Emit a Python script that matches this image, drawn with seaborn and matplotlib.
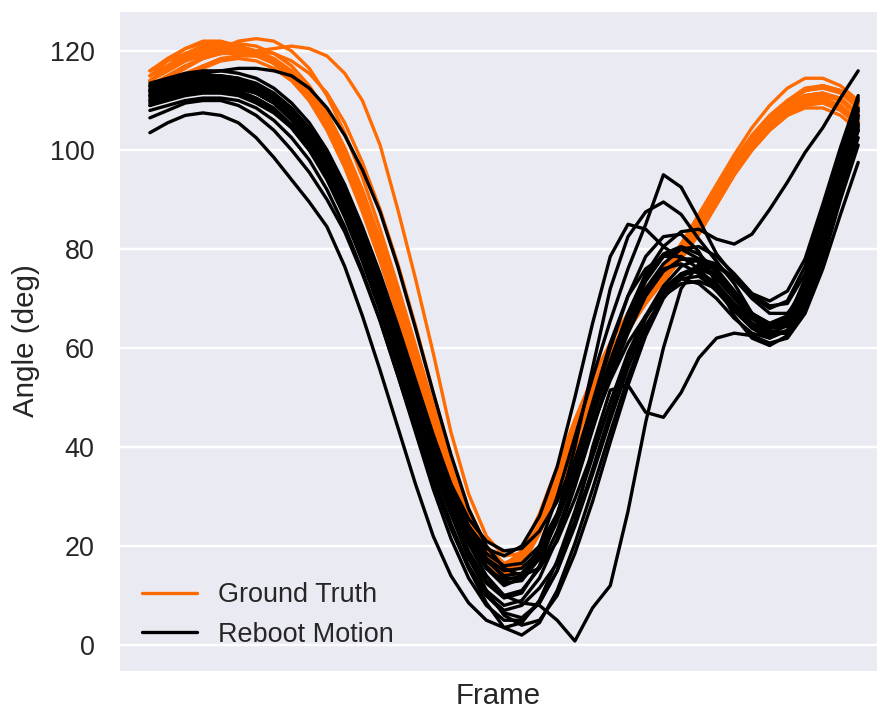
import numpy as np
import pandas as pd
import matplotlib
matplotlib.use("Agg")
import matplotlib.pyplot as plt
from matplotlib.lines import Line2D
import seaborn as sns

# Sample frames shared by every trial (normalised 0-100 %)
FRAMES = np.arange(0, 100.1, 2.5)

# Ground-truth joint angle per trial (deg)
gt_01 = [114, 116, 118, 119.5, 120, 120, 119.5, 118, 115.5, 111.5, 106, 99, 90.5, 80.5, 69.5, 58, 46.5, 35, 25, 18, 15.5, 19, 26, 35, 44, 52.5, 59.5, 65.5, 70.5, 75, 79.5, 85, 91, 97, 102, 106, 109, 111, 111.5, 110, 107]
gt_02 = [115, 118, 120.5, 122, 122, 121, 119.5, 117.5, 114.5, 110, 104, 96.5, 87.5, 77.5, 66.5, 55, 43.5, 32.5, 23.5, 17, 14.5, 17.5, 24.5, 33.5, 42.5, 51, 58.5, 64.5, 70, 74.5, 79, 84.5, 90.5, 96.5, 101.5, 106, 109.5, 112, 113, 112, 109.5]
gt_03 = [113, 114.5, 116.5, 118.5, 120.5, 122, 122.5, 122, 120, 116.5, 111, 103.5, 94.5, 84, 72.5, 60.5, 48.5, 37, 27, 19.5, 16, 18, 24, 33, 42, 51, 58.5, 65, 70.5, 75, 79.5, 85, 91, 97, 102, 106, 109.5, 112, 113, 112, 109]
gt_04 = [112, 113.5, 115, 116.5, 118, 119, 120, 120.5, 121, 120.5, 119, 115.5, 110, 101, 88, 74, 59, 43, 30.5, 22, 18, 18.5, 23, 30.5, 39, 48, 56.5, 63.5, 69, 74, 78.5, 84, 90, 96, 101, 105, 108, 110, 110.5, 109, 106]
gt_05 = [113, 115, 117, 118.5, 119.5, 120, 120, 119.5, 118, 115.5, 111.5, 105.5, 97.5, 88, 77, 64.5, 51, 38, 27.5, 20, 16.5, 18, 23.5, 32, 41, 50, 57.5, 64, 69.5, 74, 78.5, 84, 90, 96, 101, 105, 108.5, 110.5, 111, 110, 107.5]
gt_06 = [110, 112.5, 115, 117, 118.5, 119, 119, 118, 115.5, 111.5, 106, 98.5, 89.5, 79, 67.5, 55.5, 43.5, 32, 22.5, 16, 13.5, 16, 22.5, 31.5, 41, 50, 57.5, 64, 69.5, 73.5, 78, 83, 89, 95, 100, 104, 107, 108.5, 108.5, 107, 104]
gt_07 = [116, 118, 119.5, 120.5, 121, 120.5, 119.5, 117.5, 114.5, 110, 104.5, 97.5, 89, 79, 68, 56.5, 45, 34, 24.5, 18, 15, 17.5, 24, 33, 42.5, 51, 58.5, 65, 70.5, 75.5, 81, 87, 93, 99, 104.5, 109, 112.5, 114.5, 114.5, 113, 110]
gt_08 = [114, 116.5, 118.5, 120, 120.5, 120.5, 120, 118.5, 116, 112, 106.5, 99.5, 91, 81, 70, 58.5, 47, 36, 26.5, 19.5, 16, 19, 26.5, 36, 45.5, 54, 61, 67, 72, 76.5, 81, 86.5, 92.5, 98, 103, 107, 110, 112, 112.5, 111.5, 108.5]
gt_09 = [112, 114, 115.5, 117, 118, 118.5, 118, 116.5, 114, 110, 104.5, 97.5, 89, 79, 68, 56.5, 45, 34, 24.5, 17.5, 14, 16.5, 23, 32, 41.5, 50, 57.5, 64, 69, 73.5, 78, 83, 89, 95, 100, 104, 107, 109, 109.5, 108, 105]
gt_10 = [115, 117, 119, 120.5, 121.5, 121.5, 121, 119.5, 117, 113, 107.5, 100.5, 92, 82, 71, 59.5, 48, 37, 27, 19.5, 16, 18, 24, 33, 42, 51, 58.5, 65, 70.5, 75, 80, 85.5, 91.5, 97.5, 102.5, 106.5, 110, 112.5, 113, 112, 109]
gt_11 = [113, 115, 117, 118.5, 119.5, 120, 119.5, 118, 115.5, 111.5, 106, 99, 90.5, 80.5, 69.5, 58, 46.5, 35.5, 26, 19, 15.5, 17.5, 23.5, 32.5, 42, 50.5, 58, 64.5, 69.5, 74, 78.5, 83.5, 89.5, 95.5, 100.5, 104.5, 107.5, 109.5, 110, 108.5, 105.5]
gt_12 = [114, 116, 118, 119, 119.5, 119.5, 119, 117.5, 115, 111, 105.5, 98.5, 90, 80, 69, 57.5, 46, 35, 25.5, 18.5, 15, 17, 23, 32, 41.5, 50.5, 58, 64.5, 70, 74.5, 79.5, 85, 91, 97, 102, 106, 109, 111, 111.5, 110.5, 107.5]
gt_13 = [116, 118.5, 120.5, 121.5, 121.5, 121, 120, 118, 115, 110.5, 105, 98, 89.5, 79.5, 68.5, 57, 45.5, 34.5, 25, 18, 15, 17, 23, 32, 41.5, 50.5, 58, 64.5, 70, 75, 80, 85.5, 91.5, 97, 102, 106, 109, 111, 111.5, 110, 107]
gt_14 = [114, 117, 119.5, 121, 121.5, 121, 120, 118, 115, 110.5, 104.5, 97, 88, 78, 67, 55.5, 44, 33, 24, 17.5, 14.5, 17, 23.5, 32.5, 42, 51, 58.5, 64.5, 69.5, 74, 78.5, 84, 90, 96, 101, 105, 108, 110, 110.5, 109, 106]

# Reboot Motion estimate per trial (deg)
rb_01 = [103.5, 105.5, 107, 107.5, 107, 105.5, 102.5, 98.5, 94, 89.5, 84.5, 76.5, 66.5, 55.5, 44, 32.5, 22, 14, 8.5, 5, 3.5, 4.5, 9, 17, 27, 38, 49, 59, 66.5, 71.5, 74, 73, 70, 66, 63, 62, 65.5, 74, 86, 98, 107]
rb_02 = [106.5, 108, 109.5, 110, 110, 109, 107, 104, 100, 95.5, 90, 83.5, 75, 65.5, 54.5, 43, 31.5, 21.5, 13.5, 8, 5, 5, 8.5, 15, 24, 34.5, 45.5, 56, 64.5, 70.5, 74, 74.5, 72, 68.5, 65, 63, 64.5, 71, 82, 94, 104]
rb_03 = [113, 114, 115, 115.5, 116, 116.5, 116.5, 116, 115, 112.5, 108.5, 103, 96, 87.5, 76.5, 64, 51, 38.5, 27.5, 20, 15.5, 14, 15.5, 21, 29.5, 39, 49, 58.5, 66.5, 72.5, 76.5, 78, 77, 74, 70, 67, 67, 71.5, 82, 95, 107]
rb_04 = [112, 113, 114, 114.5, 114.5, 114, 113, 111, 108, 104, 98.5, 91.5, 83, 73.5, 63, 52, 41.5, 32.5, 25.5, 21, 19, 19.5, 23, 29, 37.5, 47, 56.5, 65, 72, 77, 80, 80.5, 78.5, 75, 71, 68.5, 69, 75, 86, 99, 110]
rb_05 = [110.5, 111.5, 112.5, 113, 113, 112.5, 111.5, 109.5, 106.5, 102.5, 97, 90, 81.5, 72, 61.5, 50.5, 40, 31, 24, 19.5, 18, 20, 26, 36, 50, 65, 78.5, 85, 84, 80.5, 78, 77.5, 76.5, 74, 70.5, 68, 69.5, 76.5, 88, 100, 110.5]
rb_06 = [111, 112, 113, 113.5, 113.5, 113, 112, 110, 107, 103, 97.5, 90.5, 82, 72.5, 62, 51, 40, 30.5, 22.5, 17.5, 15, 15.5, 19, 25.5, 34, 44, 54, 63, 70.5, 75.5, 78, 78, 75.5, 71.5, 67, 64, 64.5, 70, 80.5, 93, 104.5]
rb_07 = [112.5, 113.5, 114.5, 115, 115, 114.5, 113.5, 111.5, 108.5, 104.5, 99, 92, 83.5, 74, 63.5, 52, 40.5, 30, 21.5, 15.5, 12, 13.5, 20, 30, 42, 54, 65.5, 76, 85, 95, 92.5, 86, 79, 74.5, 71, 69.5, 71.5, 78, 89, 100.5, 111]
rb_08 = [109, 110, 111, 111.5, 111.5, 111, 109.5, 107.5, 104.5, 100, 94.5, 87.5, 79, 69.5, 59, 48, 37, 27, 18.5, 12.5, 9.5, 10.5, 16, 26, 40, 56, 72, 82.5, 87.5, 89.5, 87, 82, 77.5, 73, 67, 63, 63, 68.5, 80, 93, 105]
rb_09 = [110, 111, 112, 112.5, 112.5, 112, 110.5, 108.5, 105, 100.5, 94.5, 87, 78, 68, 57, 45.5, 34.5, 24.5, 16, 10, 7, 8, 11.5, 16.5, 25, 40, 51.5, 52.5, 47, 46, 51, 58, 62, 63, 62.5, 61, 62, 67, 76, 87, 97.5]
rb_10 = [111.5, 112.5, 113.5, 114, 114, 113.5, 112, 110, 107, 103, 97.5, 90.5, 82, 72.5, 62, 50.5, 39, 29, 20.5, 14, 10, 8.5, 8, 5, 0.8, 7.5, 12, 27, 45, 60, 72, 77, 76, 71.5, 67, 64.5, 65.5, 71, 82, 94, 105]
rb_11 = [108, 109, 110, 110.5, 110.5, 110, 108.5, 106, 102.5, 98, 92, 84.5, 75.5, 65.5, 54.5, 43.5, 33, 23.5, 15.5, 10, 6.5, 5.5, 8.5, 15, 24.5, 35.5, 47, 57.5, 66, 72, 75, 75.5, 73, 69, 65, 62.5, 63.5, 69.5, 80.5, 93, 104]
rb_12 = [111, 112, 113, 113.5, 113.5, 113, 111.5, 109.5, 106, 101.5, 95.5, 88, 79, 69, 58, 47, 36, 26.5, 18, 11, 6, 4, 5, 10, 18.5, 29, 41, 52.5, 62.5, 70, 74.5, 76, 74.5, 70.5, 66, 63, 63, 68, 78.5, 91, 102.5]
rb_13 = [109.5, 110.5, 111.5, 112, 112, 111.5, 110, 108, 104.5, 100, 94, 86.5, 77.5, 67.5, 56.5, 45, 34, 24, 15.5, 8.5, 3.5, 2, 4.5, 11, 20.5, 31.5, 43, 54, 63.5, 70.5, 75, 76.5, 75, 71, 66.5, 63.5, 63, 67.5, 77.5, 90, 101]
rb_14 = [113.5, 114.5, 115.5, 116, 116, 115.5, 114.5, 112.5, 109.5, 105.5, 100, 93, 84.5, 75, 64.5, 53.5, 42.5, 32.5, 24, 17.5, 13.5, 13.5, 17.5, 25, 35, 46, 57, 67, 75, 80.5, 83.5, 84, 82, 81, 83, 88, 93.5, 99.5, 104.5, 110.5, 116]
rb_15 = [110, 111.5, 112.5, 113, 113, 112.5, 111.5, 109.5, 106.5, 102.5, 97, 90, 81.5, 72, 61.5, 50.5, 40, 30.5, 22.5, 17, 14, 14.5, 18.5, 26, 36, 47, 57.5, 67, 74.5, 79, 80.5, 79, 75.5, 71, 67, 65, 66.5, 73, 84.5, 97, 108.5]
rb_16 = [112, 113, 114, 114.5, 114.5, 114, 112.5, 110.5, 107.5, 103.5, 98, 91, 82.5, 73, 62.5, 51.5, 40.5, 30.5, 22, 16, 12.5, 13, 17.5, 25.5, 36, 48, 60, 70.5, 78.5, 82.5, 83, 79.5, 73, 66.5, 62, 60.5, 62.5, 69.5, 81, 93.5, 104]
rb_17 = [113, 114, 114.5, 115, 115, 114.5, 113, 111, 108, 103.5, 97.5, 90, 81, 71, 60, 48.5, 37.5, 27.5, 19, 13, 10, 11, 15.5, 23, 33, 44, 55, 64.5, 71.5, 76, 77, 75, 71.5, 67.5, 64, 62, 63.5, 69.5, 80.5, 93, 105.5]
rb_18 = [111, 112, 113, 113.5, 113.5, 113, 112, 110, 107.5, 103.5, 98, 91, 82.5, 73, 62.5, 51.5, 41, 31.5, 24, 18.5, 16, 16.5, 20, 26.5, 35, 44.5, 53.5, 61, 66.5, 70.5, 73, 73.5, 72, 69, 66, 64, 65, 71, 82.5, 95, 106.5]
rb_19 = [109, 110.5, 111.5, 112, 112, 111.5, 110, 108, 105, 101, 95.5, 88.5, 80, 70.5, 60, 49, 38.5, 29, 21, 15.5, 13, 14, 18.5, 26.5, 37, 49, 61, 70.5, 76, 78.5, 78.5, 76, 72, 68, 64.5, 62.5, 63.5, 70, 82, 95.5, 108]
rb_20 = [112, 113, 113.5, 114, 114, 113.5, 112, 110, 107, 102.5, 96.5, 89, 80, 70, 59, 47.5, 36.5, 26.5, 17.5, 11, 8, 9, 13.5, 21.5, 32, 43.5, 55, 65.5, 73.5, 78.5, 80, 78, 74, 70, 66.5, 64.5, 66, 72.5, 84, 96.5, 108]

GROUND_TRUTH = [gt_01, gt_02, gt_03, gt_04, gt_05, gt_06, gt_07,
                gt_08, gt_09, gt_10, gt_11, gt_12, gt_13, gt_14]
REBOOT = [rb_01, rb_02, rb_03, rb_04, rb_05, rb_06, rb_07, rb_08, rb_09, rb_10,
          rb_11, rb_12, rb_13, rb_14, rb_15, rb_16, rb_17, rb_18, rb_19, rb_20]

LABELS = ["Ground Truth", "Reboot Motion"]
COLORS = {"Ground Truth": "#FF6B00", "Reboot Motion": "#000000"}
Y_TICKS = [0, 20, 40, 60, 80, 100, 120]

rows = []
for source, curves in zip(LABELS, (GROUND_TRUTH, REBOOT)):
    for trial, values in enumerate(curves):
        assert len(values) == len(FRAMES), (source, trial, len(values))
        for frame, angle in zip(FRAMES, values):
            rows.append((source, trial, frame, angle))
df = pd.DataFrame(rows, columns=["Source", "Trial", "Frame", "Angle"])

sns.set_theme(style="darkgrid", context="notebook")
plt.rcParams["font.family"] = ["Liberation Sans", "DejaVu Sans"]

DPI = 177.2
fig, ax = plt.subplots(figsize=(886 / DPI, 711 / DPI), dpi=DPI)
fig.subplots_adjust(left=0.1332, right=0.991, top=0.986, bottom=0.0549)

# one line per trial: ground truth first, estimates drawn on top
sns.lineplot(data=df, x="Frame", y="Angle",
             hue="Source", hue_order=LABELS, palette=COLORS,
             units="Trial", estimator=None, sort=False,
             legend=False, linewidth=1.35, ax=ax)

handles = [Line2D([], [], color=COLORS[lab], linewidth=1.35) for lab in LABELS]
ax.legend(handles, LABELS, loc="lower left", frameon=False)

ax.set_xticks([])
ax.set_yticks(Y_TICKS)
ax.set_xlim(-4.5, 102.8)
ax.set_ylim(-5.45, 128.3)
ax.set_xlabel("Frame")
ax.set_ylabel("Angle (deg)")

fig.savefig("out.png", dpi=DPI)
